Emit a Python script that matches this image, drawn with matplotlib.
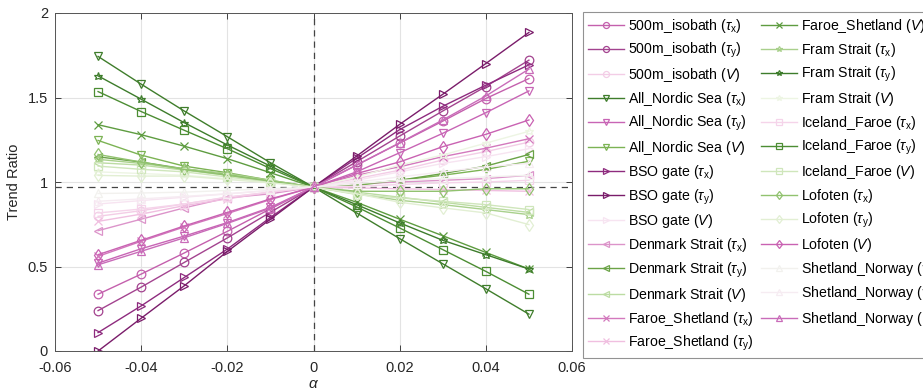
import matplotlib
matplotlib.use("Agg")
import matplotlib.pyplot as plt

plt.rcParams['font.family'] = ['Liberation Sans', 'DejaVu Sans']
plt.rcParams['mathtext.fontset'] = 'custom'
plt.rcParams['mathtext.rm'] = 'Liberation Sans'
plt.rcParams['mathtext.it'] = 'Liberation Sans:italic'
plt.rcParams['mathtext.bf'] = 'Liberation Sans:bold'

alpha = [-0.05, -0.04, -0.03, -0.02, -0.01, 0.0, 0.01, 0.02, 0.03, 0.04, 0.05]
center_ratio = 0.97

labels = [
    r'500m_isobath ($\tau_{\rm x}$)', r'500m_isobath ($\tau_{\rm y}$)', r'500m_isobath ($V$)',
    r'All_Nordic Sea ($\tau_{\rm x}$)', r'All_Nordic Sea ($\tau_{\rm y}$)', r'All_Nordic Sea ($V$)',
    r'BSO gate ($\tau_{\rm x}$)', r'BSO gate ($\tau_{\rm y}$)', r'BSO gate ($V$)',
    r'Denmark Strait ($\tau_{\rm x}$)', r'Denmark Strait ($\tau_{\rm y}$)', r'Denmark Strait ($V$)',
    r'Faroe_Shetland ($\tau_{\rm x}$)', r'Faroe_Shetland ($\tau_{\rm y}$)', r'Faroe_Shetland ($V$)',
    r'Fram Strait ($\tau_{\rm x}$)', r'Fram Strait ($\tau_{\rm y}$)', r'Fram Strait ($V$)',
    r'Iceland_Faroe ($\tau_{\rm x}$)', r'Iceland_Faroe ($\tau_{\rm y}$)', r'Iceland_Faroe ($V$)',
    r'Lofoten ($\tau_{\rm x}$)', r'Lofoten ($\tau_{\rm y}$)', r'Lofoten ($V$)',
    r'Shetland_Norway ($\tau_{\rm x}$)', r'Shetland_Norway ($\tau_{\rm y}$)', r'Shetland_Norway ($V$)',
]

iso_tx    = [0.336, 0.455, 0.580, 0.708, 0.841, 0.97, 1.100, 1.230, 1.360, 1.494, 1.612]
iso_ty    = [0.239, 0.378, 0.524, 0.669, 0.821, 0.97, 1.120, 1.272, 1.420, 1.565, 1.721]
iso_V     = [0.797, 0.830, 0.870, 0.910, 0.940, 0.97, 1.020, 1.070, 1.130, 1.180, 1.236]
nordic_tx = [1.743, 1.579, 1.420, 1.268, 1.114, 0.97, 0.817, 0.665, 0.516, 0.368, 0.218]
nordic_ty = [0.520, 0.605, 0.680, 0.760, 0.850, 0.97, 1.060, 1.173, 1.288, 1.410, 1.539]
nordic_V  = [1.246, 1.159, 1.094, 1.055, 1.010, 0.97, 0.980, 1.010, 1.040, 1.074, 1.123]
bso_tx    = [0.109, 0.267, 0.435, 0.603, 0.790, 0.97, 1.140, 1.310, 1.448, 1.573, 1.693]
bso_ty    = [0.000, 0.194, 0.386, 0.589, 0.780, 0.97, 1.153, 1.341, 1.519, 1.701, 1.885]
bso_V     = [0.870, 0.890, 0.910, 0.930, 0.950, 0.97, 1.010, 1.060, 1.110, 1.150, 1.197]
den_tx    = [0.712, 0.780, 0.847, 0.906, 0.930, 0.97, 0.990, 1.000, 1.010, 1.020, 1.040]
den_ty    = [1.149, 1.118, 1.078, 1.045, 1.005, 0.97, 0.985, 1.010, 1.050, 1.094, 1.163]
den_V     = [1.114, 1.100, 1.070, 1.040, 1.000, 0.97, 0.940, 0.910, 0.880, 0.850, 0.820]
fs_tx     = [0.560, 0.649, 0.734, 0.813, 0.896, 0.97, 1.040, 1.090, 1.150, 1.200, 1.256]
fs_ty     = [0.767, 0.810, 0.860, 0.900, 0.940, 0.97, 0.965, 0.960, 0.955, 0.950, 0.945]
fs_V      = [1.339, 1.280, 1.212, 1.138, 1.055, 0.97, 0.880, 0.780, 0.682, 0.583, 0.485]
fram_tx   = [1.134, 1.110, 1.078, 1.050, 1.010, 0.97, 0.930, 0.892, 0.866, 0.837, 0.807]
fram_ty   = [1.628, 1.490, 1.351, 1.219, 1.094, 0.97, 0.866, 0.758, 0.655, 0.570, 0.485]
fram_V    = [1.060, 1.050, 1.040, 1.020, 1.000, 0.97, 1.030, 1.100, 1.160, 1.230, 1.300]
if_tx     = [0.817, 0.840, 0.870, 0.910, 0.940, 0.97, 0.975, 0.985, 0.995, 1.000, 1.010]
if_ty     = [1.535, 1.417, 1.306, 1.197, 1.080, 0.97, 0.853, 0.728, 0.600, 0.471, 0.336]
if_V      = [1.094, 1.075, 1.060, 1.030, 1.000, 0.97, 0.926, 0.906, 0.886, 0.866, 0.837]
lof_tx    = [1.163, 1.118, 1.074, 1.040, 1.005, 0.97, 0.945, 0.945, 0.945, 0.960, 0.960]
lof_ty    = [1.039, 1.035, 1.035, 1.015, 0.995, 0.97, 0.930, 0.880, 0.847, 0.817, 0.748]
lof_V     = [0.570, 0.655, 0.740, 0.820, 0.900, 0.97, 1.050, 1.119, 1.209, 1.282, 1.367]
sn_tx     = [0.932, 0.935, 0.940, 0.950, 0.960, 0.97, 0.990, 1.010, 1.020, 1.030, 1.040]
sn_ty     = [0.886, 0.900, 0.915, 0.930, 0.950, 0.97, 1.000, 1.030, 1.060, 1.090, 1.110]
sn_V      = [0.510, 0.590, 0.670, 0.755, 0.845, 0.97, 1.100, 1.232, 1.367, 1.509, 1.668]

series = [iso_tx, iso_ty, iso_V, nordic_tx, nordic_ty, nordic_V, bso_tx, bso_ty, bso_V,
          den_tx, den_ty, den_V, fs_tx, fs_ty, fs_V, fram_tx, fram_ty, fram_V,
          if_tx, if_ty, if_V, lof_tx, lof_ty, lof_V, sn_tx, sn_ty, sn_V]

colors = ['#c460ad', '#a3438f', '#f3cde6',
          '#3f7d2b', '#c865b5', '#7cb354',
          '#8e2b7e', '#7a1c6a', '#f7e4f1',
          '#dc94ca', '#6ba347', '#bcdca3',
          '#d379bd', '#f0bfe0', '#5e9c40',
          '#a9d08c', '#3d7c2b', '#edf5e3',
          '#f5d4ea', '#4c8d33', '#cfe6bb',
          '#91c26f', '#e2efd3', '#c962b2',
          '#f2f1ee', '#f6ecf2', '#c96cb9']

markers = ['o'] * 3 + ['v'] * 3 + ['>'] * 3 + ['<'] * 3 + ['x'] * 3 + ['*'] * 3 + ['s'] * 3 + ['d'] * 3 + ['^'] * 3

fig = plt.figure(figsize=(9.23, 3.91), dpi=100)
ax = fig.add_axes([55 / 923, 1 - 351 / 391, (572 - 55) / 923, (351 - 13) / 391])

handles = []
for ys, c, m, lab in zip(series, colors, markers, labels):
    ms = 6.2
    if m == 's':
        ms = 5.5
    if m == 'x':
        ms = 5.5
    h, = ax.plot(alpha, ys, color=c, marker=m, markersize=ms, markerfacecolor='none',
                 markeredgecolor=c, markeredgewidth=0.9, linewidth=1.0, label=lab, zorder=2)
    handles.append(h)

ax.axvline(0, color='#444444', linestyle=(0, (5, 4)), linewidth=0.9, zorder=1.5)
ax.axhline(center_ratio, color='#444444', linestyle=(0, (5, 4)), linewidth=0.9, zorder=1.5)

ax.set_xlim(-0.06, 0.06)
ax.set_ylim(0, 2)
ax.set_xticks([-0.06, -0.04, -0.02, 0, 0.02, 0.04, 0.06])
ax.set_xticklabels(['-0.06', '-0.04', '-0.02', '0', '0.02', '0.04', '0.06'])
ax.set_yticks([0, 0.5, 1, 1.5, 2])
ax.set_yticklabels(['0', '0.5', '1', '1.5', '2'])
ax.grid(True, color='#e3e3e3', linewidth=0.8, zorder=0)
ax.set_axisbelow(True)
ax.tick_params(direction='in', top=True, right=True, length=4, width=0.6,
               colors='#262626', labelsize=10.5)
ax.tick_params(axis='x', pad=7)
ax.tick_params(axis='y', pad=5)
for s in ax.spines.values():
    s.set_color('#555555')
    s.set_linewidth(0.7)

ax.set_xlabel(r'$\alpha$', fontsize=11, color='#262626', labelpad=2)
ax.set_ylabel('Trend Ratio', fontsize=10.5, color='#262626', labelpad=5)

leg = fig.legend(handles=handles, loc='upper left', bbox_to_anchor=(583 / 923, 1 - 12 / 391),
                 ncol=2, fontsize=10.2, frameon=True, fancybox=False, borderaxespad=0,
                 handlelength=2.55, handletextpad=0.25, columnspacing=0.55, labelspacing=0.42,
                 markerscale=0.7, borderpad=0.35)
leg.get_frame().set_edgecolor('#777777')
leg.get_frame().set_linewidth(0.8)

fig.savefig('out.png', dpi=100)
